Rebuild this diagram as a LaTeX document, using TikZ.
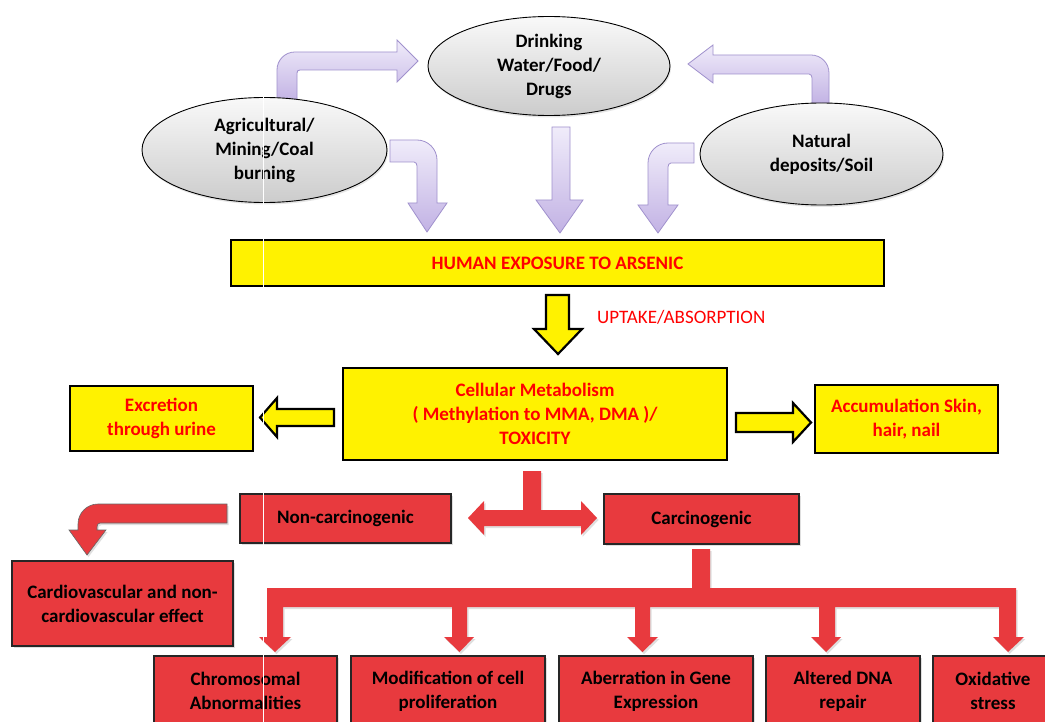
\documentclass[tikz,border=0pt]{standalone}
\usepackage{fontspec}
\setmainfont{Carlito}
\usetikzlibrary{shapes.geometric,shadows}
\definecolor{redfill}{RGB}{232,58,62}
\definecolor{purpline}{RGB}{160,145,205}
\definecolor{purplight}{RGB}{240,236,250}
\definecolor{purpdark}{RGB}{194,178,228}
\begin{document}
\begin{tikzpicture}[x=1pt,y=-1pt,
  txt/.style={font=\fontsize{19}{24}\selectfont\bfseries},
  ell/.style={ellipse, draw=black, line width=0.9pt, top color=gray!5, bottom color=gray!40,
    inner sep=0pt, align=center, txt,
    drop shadow={opacity=0.2,shadow xshift=1pt,shadow yshift=-2pt}},
  ybox/.style={rectangle, draw=black, line width=2.5pt, fill=yellow, text=red,
    align=center, inner sep=0pt, txt},
  rbox/.style={rectangle, draw=black!85, line width=1.1pt, fill=redfill, text=black,
    align=center, inner sep=0pt, txt,
    drop shadow={opacity=0.25,shadow xshift=1.5pt,shadow yshift=-2pt}},
  parrow/.style={draw=purpline, line width=0.8pt, top color=purplight, bottom color=purpdark},
  yarrow/.style={draw=black, line width=2.2pt, fill=yellow, line join=miter},
  rarrow/.style={fill=redfill, draw=none,
    drop shadow={opacity=0.25,shadow xshift=1.5pt,shadow yshift=-2pt}}
]
\useasboundingbox (0,0) rectangle (1045,722);
\clip (0,0) rectangle (1045,722);
\fill[white] (0,0) rectangle (1045,722);

% purple block arrows
\path[parrow] (277,102) -- (277,70) .. controls (277,60) and (285,52) .. (295,52)
  -- (397,52) -- (397,40) -- (418,61) -- (397,82) -- (397,70) -- (300,70)
  .. controls (298,70) and (297,71) .. (297,73) -- (297,102) -- cycle;
\path[parrow] (390,140) -- (417,140) .. controls (428,140) and (437,149) .. (437,160)
  -- (437,203) -- (447,203) -- (427,232) -- (408,203) -- (417,203) -- (417,166)
  .. controls (417,164) and (416,162) .. (414,162) -- (390,162) -- cycle;
\path[parrow] (552,127) -- (570,127) -- (570,200) -- (583,200) -- (560,233)
  -- (536,200) -- (552,200) -- cycle;
\path[parrow] (694,143) -- (668,143) .. controls (657,143) and (648,152) .. (648,163)
  -- (648,205) -- (638,205) -- (658,233) -- (678,205) -- (668,205) -- (668,167)
  .. controls (668,165) and (669,163) .. (671,163) -- (694,163) -- cycle;
\path[parrow] (812,104) -- (812,78) .. controls (812,76) and (811,74) .. (809,74)
  -- (713,74) -- (713,83) -- (688,64) -- (713,45) -- (713,55) -- (811,55)
  .. controls (821,55) and (829,63) .. (829,73) -- (829,104) -- cycle;

% ellipses
\node[ell, minimum width=242, minimum height=99] (drink) at (549,66) {Drinking\\Water/Food/\\Drugs};
\node[ell, minimum width=245, minimum height=105] (agri) at (264.5,150) {Agricultural/\\Mining/Coal\\burning};
\node[ell, minimum width=243, minimum height=102] (natural) at (821.5,154) {Natural\\deposits/Soil};

% yellow boxes
\node[ybox, minimum width=653, minimum height=46] (human) at (557.5,263) {HUMAN EXPOSURE TO ARSENIC};
\node[ybox, minimum width=384, minimum height=92] (cell) at (535,414) {Cellular Metabolism\\( Methylation to MMA, DMA )/\\TOXICITY};
\node[ybox, minimum width=183, minimum height=65] (excr) at (161.5,418.5) {Excretion\\through urine};
\node[ybox, minimum width=183, minimum height=68] (accu) at (906.5,419) {Accumulation Skin,\\hair, nail};

% yellow arrows
\path[yarrow] (546,295) -- (569,295) -- (569,329) -- (582,329) -- (558,354)
  -- (534,329) -- (546,329) -- cycle;
\node[text=red, font=\fontsize{19}{24}\selectfont, anchor=west, inner sep=0pt] (uptake) at (597,317) {UPTAKE/ABSORPTION};
\path[yarrow] (334,409) -- (277,409) -- (277,398) -- (260,417.5) -- (277,437)
  -- (277,426) -- (334,426) -- cycle;
\path[yarrow] (736,413) -- (793,413) -- (793,403) -- (811,422.5) -- (793,442)
  -- (793,432) -- (736,432) -- cycle;

% red boxes
\node[rbox, minimum width=211, minimum height=49] (noncarc) at (345.5,518.5) {Non-carcinogenic};
\node[rbox, minimum width=195, minimum height=50] (carc) at (701.5,519) {Carcinogenic};
\node[rbox, minimum width=221, minimum height=85] (cardio) at (122.5,603.5) {Cardiovascular and non-\\cardiovascular effect};
\node[rbox, minimum width=183, minimum height=70] (chromo) at (245.5,691) {Chromosomal\\Abnormalities};
\node[rbox, minimum width=194, minimum height=70] (modif) at (448,691) {Modification of cell\\proliferation};
\node[rbox, minimum width=194, minimum height=70] (aberr) at (656,691) {Aberration in Gene\\Expression};
\node[rbox, minimum width=154, minimum height=70] (dna) at (843,691) {Altered DNA\\repair};
\node[rbox, minimum width=120, minimum height=70] (oxid) at (993,691) {Oxidative\\stress};

% red arrows
\path[rarrow] (523,471) -- (541,471) -- (541,510) -- (581,510) -- (581,501) -- (597,518)
  -- (581,535) -- (581,526) -- (484,526) -- (484,535) -- (468,518) -- (484,501)
  -- (484,510) -- (523,510) -- cycle;
\path[rarrow, draw=black!60, line width=0.6pt] (227,504) -- (98,504) .. controls (87,504) and (78,513) .. (78,524)
  -- (78,530) -- (69,530) -- (87,555) -- (106,530) -- (97,530) -- (97,527)
  .. controls (97,525) and (98,523) .. (100,523) -- (227,523) -- cycle;
\path[rarrow] (692,549) -- (710,549) -- (710,588) -- (1016,588) -- (1016,637)
  -- (1024,637) -- (1008,652) -- (993,637) -- (999,637) -- (999,607)
  -- (835,607) -- (835,637) -- (841,637) -- (826,652) -- (811,637) -- (819,637) -- (819,607)
  -- (650,607) -- (650,637) -- (658,637) -- (642.5,652) -- (627,637) -- (635,637) -- (635,607)
  -- (467,607) -- (467,637) -- (474,637) -- (459.5,652) -- (444,637) -- (452,637) -- (452,607)
  -- (283,607) -- (283,637) -- (291,637) -- (275,652) -- (259,637) -- (267,637)
  -- (267,588) -- (692,588) -- cycle;

% white scan seam
\draw[white, line width=1.5pt] (263.5,0) -- (263.5,722);
\end{tikzpicture}
\end{document}
